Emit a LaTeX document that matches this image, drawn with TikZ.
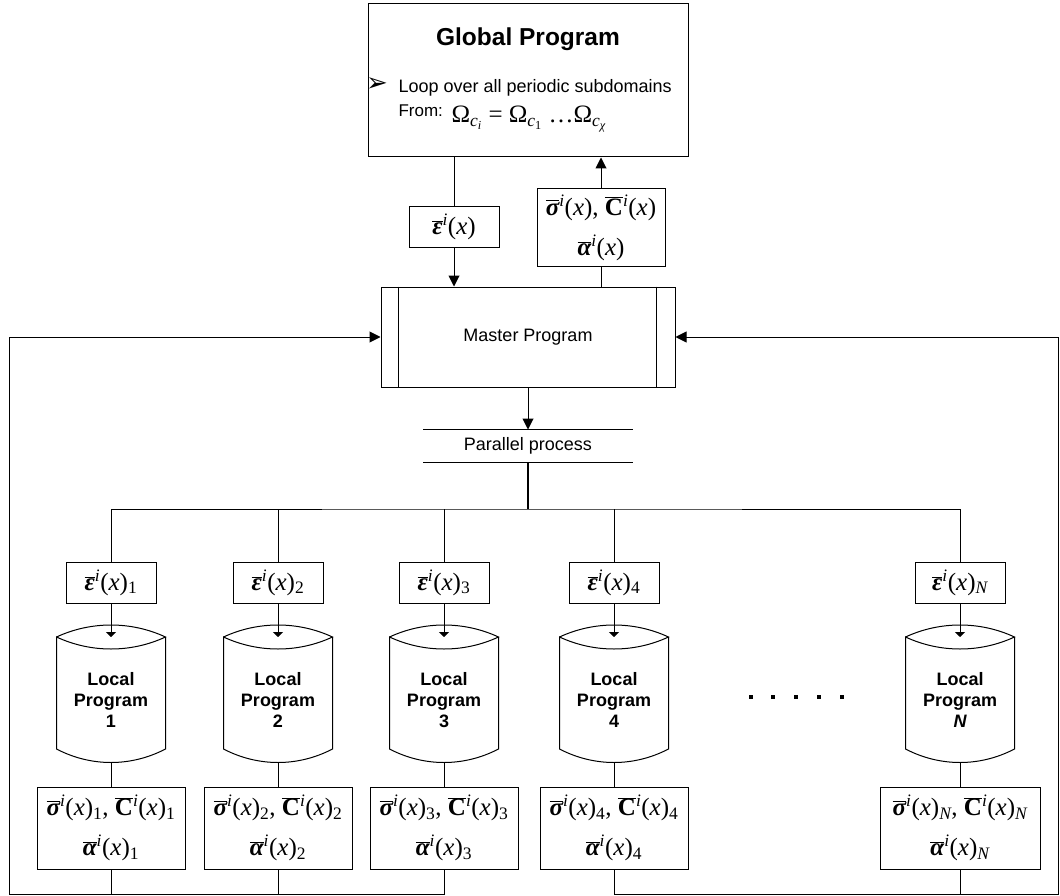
\documentclass[tikz,border=0pt]{standalone}
\usepackage{fontspec}
\setmainfont{Liberation Sans}
\newfontfamily\tms{Liberation Serif}
\newfontfamily\dingfont{DejaVu Sans}
\usetikzlibrary{arrows.meta}
% bold italic symbol with a bar over it, set in the serif face
\newcommand\ovg[1]{$\overline{\hbox{\bfseries\itshape #1}}$}
\newcommand\ovC{$\overline{\hbox{\bfseries C}}$}
\newcommand\supi{\textsuperscript{\itshape i}}
\newcommand\xx{(\textit{x})}

\begin{document}
\begin{tikzpicture}[x=1pt,y=-1pt,line width=1pt,
  arrowbig/.style={-{Triangle[length=11pt,width=11pt]}},
  arrowsmall/.style={-{Triangle[length=5pt,width=10pt]}},
  mathbox/.style={draw,inner sep=0pt,font=\tms\fontsize{25}{40}\selectfont,align=center},
  txt/.style={inner sep=0pt,font=\fontsize{18}{22}\selectfont},
  drum/.pic={
    \draw (-54.5,-57) .. controls (-20,-73) and (20,-73) .. (54.5,-57)
          .. controls (20,-41) and (-20,-41) .. (-54.5,-57) -- (-54.5,55)
          .. controls (-20,73) and (20,73) .. (54.5,55) -- (54.5,-57);
  }]
\useasboundingbox (0,0) rectangle (1060,896);

% global program box
\node[draw,minimum width=320,minimum height=153] (global) at (528,80.5) {};
\node[inner sep=0pt,font=\bfseries\fontsize{24.5}{28}\selectfont] (gtitle) at (528,39) {Global Program};
\node[inner sep=0pt,font=\dingfont\fontsize{26}{28}\selectfont] (gbul) at (377,85) {➢};
\node[anchor=base west,inner sep=0pt,font=\fontsize{18}{22}\selectfont] (gloop) at (398,93) {Loop over all periodic subdomains};
\node[anchor=base west,inner sep=0pt,font=\fontsize{17}{20}\selectfont] (gfrom) at (398,117) {From:};
\node[anchor=base west,inner sep=0pt,font=\tms\fontsize{25}{28}\selectfont] (gomega) at (451,123)
  {Ω\textsubscript{\itshape c\textsubscript{i}} = Ω\textsubscript{\itshape c\textsubscript{\upshape 1}} …Ω\textsubscript{\itshape c\textsubscript{χ}}};

% exchange with the master
\node[mathbox,minimum width=90,minimum height=40] (eg) at (454,227) {\ovg{ε}\supi\xx};
\node[mathbox,minimum width=128,minimum height=77] (sg) at (601,227.5) {\ovg{σ}\supi\xx, \ovC\supi\xx\\\ovg{α}\supi\xx};

% master program
\node[draw,minimum width=294,minimum height=100,font=\fontsize{18}{22}\selectfont] (master) at (528,337) {Master Program};
\draw ([xshift=18pt]master.north west) -- ([xshift=18pt]master.south west);
\draw ([xshift=-19pt]master.north east) -- ([xshift=-19pt]master.south east);

\draw (eg.north) -- (eg.north |- global.south);
\draw[arrowbig] (eg.south) -- (eg.south |- master.north);
\draw[arrowbig] (sg.north) -- (sg.north |- global.south);
\draw (sg.south) -- (sg.south |- master.north);

% parallel process
\node[txt,minimum width=209,minimum height=32] (par) at (528,446) {Parallel process};
\draw (par.north west) -- (par.north east);
\draw (par.south west) -- (par.south east);
\draw[arrowbig] (master.south) -- (par.north);

\coordinate (bus) at (528,509);
\draw[line width=2pt] (par.south) -- (bus);

% local programs
\foreach \i/\x/\lab/\w in {1/111/1/148,2/278/2/148,3/444/3/148,4/614/4/148,N/960/{\itshape N}/160}{
  \node[mathbox,minimum width=90,minimum height=41] (e\i) at (\x,582.5) {\ovg{ε}\supi\xx\textsubscript{\lab}};
  \pic at (\x,694) {drum};
  \coordinate (lt\i) at (\x,637);
  \coordinate (lb\i) at (\x,763);
  \node[inner sep=0pt,align=center,font=\bfseries\fontsize{18}{21}\selectfont] (lp\i) at (\x,700) {Local\\Program\\\lab};
  \node[mathbox,minimum width=\w,minimum height=82] (out\i) at (\x,828)
    {\ovg{σ}\supi\xx\textsubscript{\lab}, \ovC\supi\xx\textsubscript{\lab}\\\ovg{α}\supi\xx\textsubscript{\lab}};
  \draw[arrowsmall] (e\i.south) -- (lt\i);
  \draw (lb\i) -- (out\i.north);
}

\draw (e1.north) |- (bus) -| (eN.north);
\foreach \i in {2,3,4} \draw (e\i.north) -- (e\i.north |- bus);

% feedback to the master
\coordinate (cl) at (9,894);
\coordinate (cr) at (1058,894);
\draw[arrowbig] (out3.south) |- (cl) |- (master.west);
\draw (out1.south) -- (out1.south |- cl);
\draw (out2.south) -- (out2.south |- cl);
\draw[arrowbig] (out4.south) |- (cr) |- (master.east);
\draw (outN.south) -- (outN.south |- cr);

% ellipsis between program 4 and program N
\foreach \d in {751,773,796,819,842} \fill (\d-2,695) rectangle (\d+2,699);
\end{tikzpicture}
\end{document}
